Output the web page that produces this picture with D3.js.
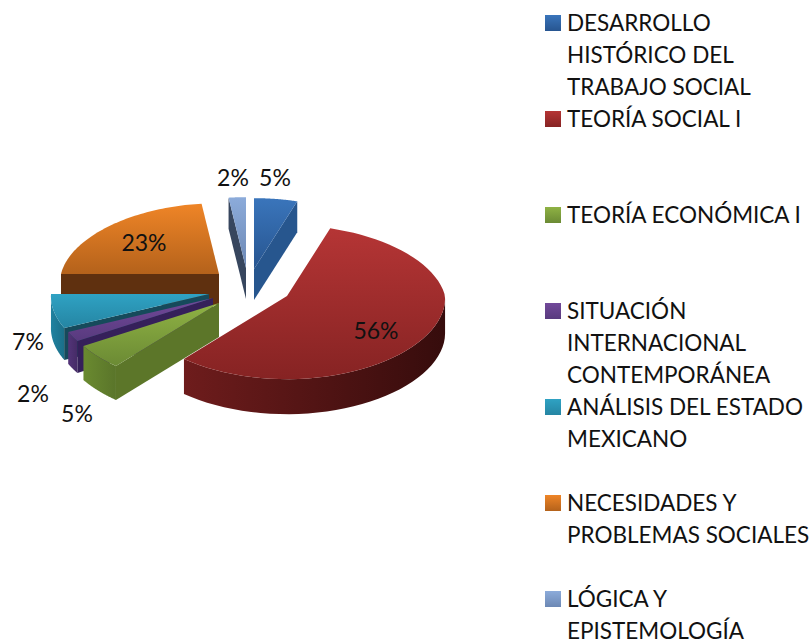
<!DOCTYPE html>
<html>
<head>
<meta charset="utf-8">
<script src="https://cdnjs.cloudflare.com/ajax/libs/d3/7.8.5/d3.min.js"></script>
<style>
  body { margin: 0; background: #fff; }
  text { font-family: Lato, "Open Sans", sans-serif; fill: #111; }
</style>
</head>
<body>
<svg id="chart" width="811" height="640"></svg>
<script>
'use strict'

const legendLines = [
  ['DESARROLLO', 'HISTÓRICO DEL', 'TRABAJO SOCIAL'],
  ['TEORÍA SOCIAL I'],
  ['TEORÍA ECONÓMICA I'],
  ['SITUACIÓN', 'INTERNACIONAL', 'CONTEMPORÁNEA'],
  ['ANÁLISIS DEL ESTADO', 'MEXICANO'],
  ['NECESIDADES Y', 'PROBLEMAS SOCIALES'],
  ['LÓGICA Y', 'EPISTEMOLOGÍA']
]
const legendRows = [0, 3, 6, 9, 12, 15, 18]
const values = [5, 56, 5, 2, 7, 23, 2]

// top face gradient [top, bottom], cut face, outer wall gradient [left, right]
const topColors = [['#3a75bb', '#275590'], ['#b53535', '#862323'], ['#8fb244', '#6b8a34'], ['#72499a', '#583a7e'], ['#2fa2c3', '#2585a3'], ['#ef8527', '#b4621b'], ['#8cabda', '#6c88b4']]
const cutColors = ['#27568e', '#4a1212', '#5c7629', '#35205a', '#164a5b', '#5f300f', '#37465e']
const wallColors = [['#27568e', '#27568e'], ['#6e1c1c', '#360c0c'], ['#6a8a30', '#5a752a'], ['#533478', '#452b66'], ['#2082a0', '#1b6f89'], ['#5f300f', '#5f300f'], ['#37465e', '#37465e']]

// exploded slices: where each slice's tip sits on the top surface
const tips = [[254, 269], [287, 296], [219, 303], [213, 298], [209, 294], [219, 274], [246, 268]]
const depths = [31, 35, 34, 32, 32, 31, 31]
const labelAt = [[275, 177], [376, 330], [77, 413], [33, 393], [28, 341], [144, 242], [233, 177]]

const rx = 158, ry = 77
const svg = d3.select('#chart')
const defs = svg.append('defs')

const slices = d3.pie().sort(null)(values)

// tilted pie with some perspective: far side is a bit smaller than the near side
const project = (tip, a) => {
  const c = Math.cos(a), s = Math.sin(a)
  const kx = c > 0 ? 1 - 0.12 * c : 1 - 0.03 * c
  return [tip[0] + rx * s * kx, tip[1] - ry * c * (1 - 0.08 * c)]
}
const line = d3.line()

const gradient = (id, colors, horizontal) => {
  const g = defs.append('linearGradient').attr('id', id)
    .attr('x1', 0).attr('y1', 0).attr('x2', horizontal ? 1 : 0).attr('y2', horizontal ? 0 : 1)
  g.append('stop').attr('offset', 0).attr('stop-color', colors[0])
  g.append('stop').attr('offset', 1).attr('stop-color', colors[1])
}

const drawOrder = [0, 6, 5, 4, 3, 2, 1]

drawOrder.forEach((i) => {
  const d = slices[i], tip = tips[i]
  const down = (p) => [p[0], p[1] + depths[i]]
  gradient('top' + i, topColors[i], false)
  gradient('wall' + i, wallColors[i], true)
  const g = svg.append('g').attr('class', 'slice')

  const steps = d3.range(0, 61).map((k) => d.startAngle + (d.endAngle - d.startAngle) * k / 60)
  const arcPts = steps.map((a) => project(tip, a))

  // outer wall, only the part turned towards us
  const nearAngles = steps.filter((a) => Math.cos(a) < 0)
  if (nearAngles.length > 1) {
    const near = nearAngles.map((a) => project(tip, a))
    g.append('path')
      .attr('d', line(near.concat(near.slice().reverse().map(down))) + 'Z')
      .attr('fill', 'url(#wall' + i + ')')
  }

  // cut faces
  const cut = (a) => {
    const p = project(tip, a)
    g.append('path')
      .attr('d', line([tip, p, down(p), down(tip)]) + 'Z')
      .attr('fill', cutColors[i])
  }
  if (Math.sin(d.startAngle) < -1e-6) cut(d.startAngle)
  if (Math.sin(d.endAngle) > 1e-6) cut(d.endAngle)

  // top face
  g.append('path')
    .attr('d', line([tip].concat(arcPts)) + 'Z')
    .attr('fill', 'url(#top' + i + ')')
})

// percent labels
svg.append('g').selectAll('text')
  .data(values)
  .enter().append('text')
    .attr('x', (d, i) => labelAt[i][0])
    .attr('y', (d, i) => labelAt[i][1])
    .attr('text-anchor', 'middle')
    .attr('dominant-baseline', 'central')
    .style('font-size', '23px')
    .text((d) => d + '%')

// legend
const rowY = d3.scaleLinear().domain([0, 19]).range([22, 630])
const legend = svg.append('g').selectAll('g')
  .data(legendLines)
  .enter().append('g')

legend.each(function (lines, i) {
  const color = topColors[i]
  gradient('key' + i, [color[0], color[1]], false)
  d3.select(this).append('rect')
    .attr('x', 545).attr('y', rowY(legendRows[i]) - 7)
    .attr('width', 16).attr('height', 16)
    .attr('fill', 'url(#key' + i + ')')
  d3.select(this).selectAll('text')
    .data(lines)
    .enter().append('text')
      .attr('x', 567)
      .attr('y', (d, k) => rowY(legendRows[i] + k))
      .attr('dominant-baseline', 'central')
      .style('font-size', '22.5px')
      .text((d) => d)
})
</script>
</body>
</html>
